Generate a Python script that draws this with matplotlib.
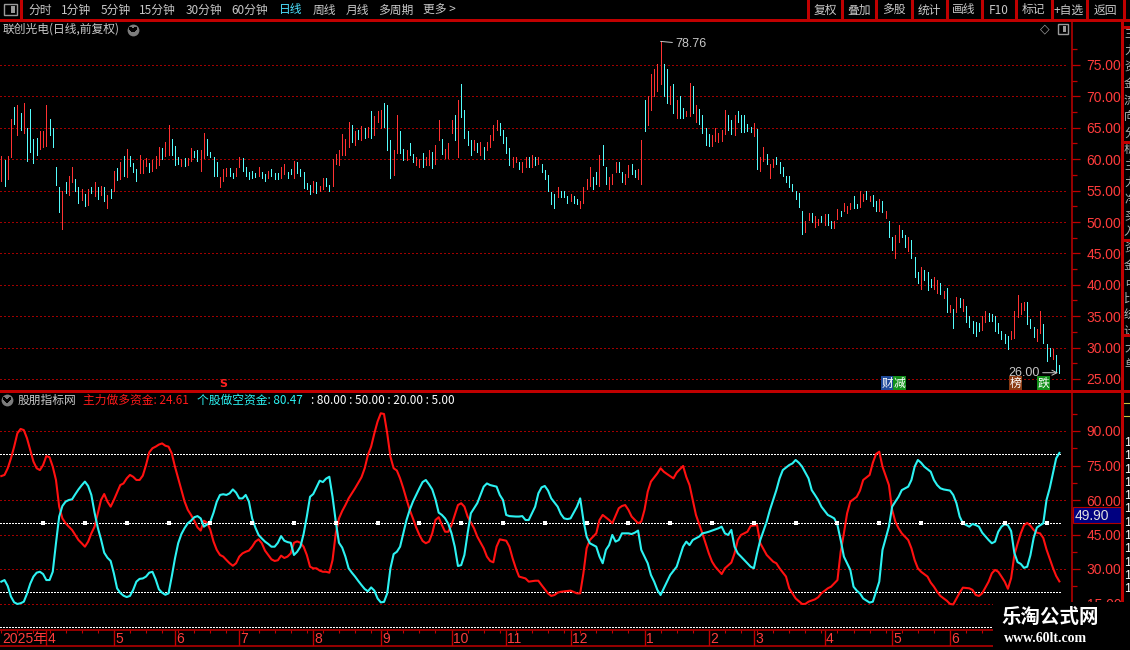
import matplotlib
matplotlib.use("Agg")
import matplotlib.pyplot as plt
from matplotlib.patches import Rectangle
from matplotlib.lines import Line2D

# ---- daily bars (high / low), 330 trading days ----
bar_high = [
    60.5, 59.8, 60.5, 66.4, 68.3, 68.6, 67.3, 68.9, 64.9, 68.0,
    63.2, 63.3, 64.5, 64.5, 68.6, 66.4, 64.9, 58.7, 55.5, 54.9,
    56.3, 57.3, 58.7, 56.9, 55.5, 55.2, 54.4, 55.2, 55.5, 56.3,
    55.5, 55.7, 55.5, 54.3, 55.3, 58.1, 58.6, 59.5, 60.5, 61.6,
    60.5, 59.4, 58.4, 60.6, 59.8, 60.2, 59.4, 59.8, 60.5, 61.9,
    61.8, 62.7, 65.4, 63.2, 62.1, 60.3, 60.0, 60.2, 60.2, 61.8,
    61.3, 61.4, 61.4, 64.1, 63.2, 61.1, 60.3, 59.5, 57.1, 58.4,
    58.6, 58.6, 57.8, 58.6, 60.3, 60.2, 58.7, 57.9, 58.1, 57.8,
    58.7, 57.9, 57.6, 58.2, 58.4, 57.8, 57.8, 58.7, 59.2, 57.9,
    58.4, 59.7, 59.5, 58.4, 57.9, 56.2, 55.9, 56.5, 56.3, 55.7,
    57.0, 57.0, 55.9,
    60.0, 60.8, 61.4, 64.0, 63.2, 66.0, 65.5, 64.5, 64.7, 65.3,
    65.0, 65.1, 67.7, 66.8, 67.7, 67.9, 69.0, 68.7, 63.1, 61.5,
    67.1, 64.5, 61.7, 61.5, 62.6, 60.9, 60.4, 60.1, 61.0, 60.3,
    61.4, 61.2, 62.2, 66.3, 63.2, 61.6, 62.5, 66.3, 67.1, 69.5,
    72.0, 67.9, 64.5, 63.0, 63.1, 62.6, 62.8, 61.9, 62.8, 63.9,
    65.5, 66.3, 65.8, 64.7, 63.6, 61.8, 60.3, 60.3, 59.6, 59.6,
    60.3, 60.3, 60.6, 60.4, 60.3, 59.3, 58.3, 57.5, 54.7, 54.5,
    55.5, 55.0, 55.0, 54.2, 54.4, 54.2, 53.7, 53.4, 55.5, 56.9,
    58.8, 57.1, 58.0, 60.6, 62.3, 58.8, 57.2, 57.7, 59.6, 59.6,
    58.0, 57.7, 59.1, 59.3, 58.3, 58.5, 63.1, 69.5, 70.0, 73.6,
    74.4, 75.1, 78.76, 75.1, 74.3, 71.7, 71.9, 69.5, 70.1, 68.1,
    67.7, 72.2, 71.7, 68.7,
    68.0, 67.0, 65.0, 64.0, 63.9, 64.9, 64.2, 64.7, 67.8, 67.1,
    66.2, 67.0, 67.6, 67.0, 67.1, 65.6, 65.1, 65.8, 64.8, 60.3,
    61.9, 60.8, 59.2, 60.0, 60.4, 59.5, 58.8, 57.4, 57.4, 56.0,
    55.0, 54.6, 51.8, 50.1, 51.5, 51.5, 50.9, 50.5, 51.0, 51.2,
    51.2, 50.1, 50.1, 52.0, 51.7, 53.1, 52.6, 53.1, 54.1, 52.8,
    54.9, 54.5, 54.9, 54.1, 54.3, 53.3, 53.6, 53.4, 51.8, 50.1,
    47.6, 48.0, 49.5, 48.8, 47.9, 47.6, 47.2, 44.5, 42.1, 42.8,
    42.4, 42.0, 40.9, 41.2, 40.8, 40.3, 39.0, 39.5, 36.8, 36.1,
    38.1, 37.9, 37.7, 36.6, 35.1, 34.3, 34.1, 33.9, 35.0, 35.8,
    35.5, 35.4, 35.1, 33.9, 32.7, 32.1, 31.9, 32.6, 35.8, 38.3,
    37.1, 37.3, 37.3, 34.6, 33.3, 32.9, 35.9, 33.7, 30.5, 30.0,
    29.8, 28.8, 27.2,
]
bar_low = [
    56.5, 55.7, 56.9, 60.4, 65.6, 63.9, 64.7, 64.2, 59.7, 61.1,
    59.4, 60.6, 61.6, 62.0, 62.1, 63.9, 62.0, 55.9, 51.6, 48.9,
    54.6, 54.3, 56.3, 54.9, 53.1, 53.5, 52.5, 52.7, 54.6, 54.1,
    53.7, 54.3, 53.3, 52.3, 53.9, 54.9, 56.7, 56.9, 57.3, 57.1,
    58.9, 57.9, 56.6, 57.8, 57.8, 58.9, 57.9, 58.1, 58.6, 59.0,
    60.0, 60.5, 60.6, 60.6, 59.0, 59.2, 58.9, 58.9, 59.0, 59.7,
    60.3, 59.7, 58.2, 60.2, 60.6, 60.3, 57.3, 57.4, 55.5, 56.6,
    57.4, 57.4, 57.0, 57.3, 58.7, 58.2, 57.3, 56.8, 57.0, 57.1,
    57.4, 57.0, 56.6, 57.0, 57.3, 56.8, 56.8, 57.0, 57.6, 57.0,
    57.6, 57.0, 57.8, 57.3, 55.4, 55.2, 54.4, 54.7, 54.6, 54.9,
    55.2, 55.7, 54.9,
    55.7, 59.2, 59.1, 60.7, 60.7, 61.9, 62.8, 62.3, 63.2, 63.1,
    63.4, 63.6, 63.4, 63.8, 66.0, 64.9, 65.2, 61.5, 57.0, 57.5,
    61.0, 61.0, 59.9, 59.9, 60.7, 59.5, 59.1, 58.8, 58.7, 59.0,
    59.1, 58.6, 59.2, 63.0, 60.8, 60.2, 60.2, 64.1, 63.0, 60.4,
    66.7, 63.3, 62.2, 60.6, 61.4, 61.2, 60.7, 60.1, 61.4, 62.0,
    63.0, 64.7, 63.8, 62.6, 61.0, 59.1, 58.8, 59.5, 58.5, 57.9,
    58.7, 58.8, 58.7, 59.1, 59.3, 57.9, 56.8, 55.0, 52.8, 52.3,
    54.0, 54.0, 54.0, 53.1, 53.4, 53.1, 52.9, 52.3, 53.1, 55.3,
    55.8, 55.3, 56.1, 55.8, 59.0, 56.0, 55.3, 56.1, 57.9, 58.0,
    56.4, 56.1, 57.2, 57.7, 57.1, 56.9, 56.0, 64.5, 65.5, 67.9,
    70.1, 70.8, 72.0, 70.0, 69.0, 68.8, 67.4, 66.5, 66.5, 66.6,
    66.8, 66.8, 67.4, 66.0,
    65.6, 64.2, 62.2, 62.1, 62.1, 62.9, 62.7, 62.9, 64.0, 64.6,
    64.0, 63.9, 65.9, 64.3, 64.3, 64.5, 64.3, 63.7, 58.4, 58.1,
    59.7, 59.2, 57.0, 58.7, 59.2, 57.8, 57.4, 56.4, 55.5, 54.9,
    53.6, 52.4, 48.1, 48.4, 50.3, 50.0, 49.2, 49.5, 50.0, 49.6,
    49.5, 49.1, 49.1, 50.4, 51.0, 51.7, 51.4, 52.0, 52.3, 52.2,
    52.4, 53.4, 53.6, 53.3, 52.5, 51.7, 51.7, 51.6, 50.6, 47.6,
    45.5, 44.3, 46.8, 47.6, 46.0, 45.4, 44.3, 41.3, 40.3, 39.3,
    40.7, 39.1, 39.6, 39.3, 38.7, 38.5, 37.9, 35.6, 35.7, 33.1,
    35.6, 36.5, 35.9, 34.1, 33.3, 32.3, 31.9, 32.7, 32.8, 34.1,
    34.3, 34.3, 32.6, 32.3, 31.4, 30.7, 29.7, 31.4, 31.5, 34.8,
    35.4, 36.0, 33.7, 33.1, 31.7, 31.0, 32.3, 30.7, 27.9, 28.6,
    28.2, 26.3, 26.0,
]
# r = up day (red bar), c = down day (cyan bar)
bar_dir = (
    "rcrrcrcrcc" "ccrrrccccr" "crrccrcrcr" "crcrcrcrcr" "cccrrrcrrr"
    "crrcccrcrr" "ccrrccccrr" "rccrrccccc" "rccrcccrrc" "crcccccrcr"
    "rccrrrrrrc" "rcrcrcrrrc" "ccrrccrccr" "rcrrcrrcrr" "rcrccccrcr"
    "crrrrccccr" "rcrrcrcrcc" "cccrcccrcc" "rrrrccrccr" "rrccrrccrr"
    "crrrrrccrc" "rccrrcrccc" "crrrrrccrc" "ccccrcrrcr" "rccccccccc"
    "rrcrrcrccr" "rcrrrccrrc" "rccrcrccrr" "ccrcccrccc" "rrcrcrcrcr"
    "cccccrrccc" "ccccrrrrrc" "ccrrcccrcc"
)

# ---- indicator lines (bar index, value) ----
red_idx = list(range(140)) + [
    140, 142, 143, 144, 145, 147, 148, 150, 151, 152,
    153, 154, 155, 157, 158, 159, 160, 161, 163, 164,
    166, 167, 168, 170, 171, 172, 173, 174, 177, 179,
    180, 181, 182, 183, 185, 186, 187, 189, 190, 192,
    193, 194, 195, 196, 198, 199, 200, 201, 202, 204,
    205, 206, 207, 209, 210, 212, 213, 214, 215, 216,
    218, 220, 221, 222, 224, 225, 227, 228, 229, 230,
    232, 233, 235, 236, 238, 240, 241, 242, 244, 245,
    247, 249, 250, 251, 253, 254, 255, 257, 258, 260,
    261, 262, 263, 264, 266, 267, 268, 270, 271, 272,
    273, 274, 276, 277, 278, 279, 280, 282, 283, 284,
    285, 286, 288, 289, 290, 291, 292, 294, 295, 296,
    297, 298, 299, 301, 302, 303, 304, 305, 307, 308,
    309, 310, 311, 312, 313, 314, 315, 316, 317, 318,
    319, 320, 321, 322, 323, 324, 325, 326, 327, 328,
    329,
]
red_val = [
    70.4, 70.9, 73.8, 78.1, 83.2, 89.0, 90.9, 90.4, 86.8, 81.7,
    76.7, 73.8, 73.0, 75.2, 79.1, 78.6, 74.5, 68.7, 57.1, 52.0,
    49.9, 48.4, 47.0, 44.8, 42.6, 41.2, 39.7, 41.9, 45.5, 48.4,
    54.2, 60.0, 62.6, 59.3, 57.1, 60.0, 63.3, 66.5, 67.2, 69.4,
    70.9, 70.1, 68.7, 68.7, 70.6, 75.2, 80.7, 82.5, 83.2, 84.1,
    84.6, 83.6, 83.2, 80.3, 74.5, 69.4, 64.3, 59.3, 55.7, 53.5,
    51.0, 48.1, 46.7, 51.0, 50.1, 47.0, 41.9, 38.3, 36.1, 35.4,
    33.9, 32.5, 31.4, 32.5, 35.4, 36.8, 37.5, 38.0, 39.7, 41.9,
    42.9, 41.2, 38.0, 36.1, 34.2, 33.5, 33.8, 35.8, 34.8, 35.4,
    36.8, 41.4, 42.0, 41.4, 39.7, 36.1, 31.0, 30.3, 30.3, 29.3,
    28.8, 28.8, 28.4, 33.9, 45.5, 52.0, 55.2, 57.8, 60.7, 62.9,
    65.1, 67.5, 69.9, 73.8, 79.6, 83.2, 89.0, 94.1, 97.7, 97.4,
    89.0, 78.8, 73.8, 72.8, 69.4, 65.1, 60.3, 55.7, 52.0, 48.1,
    44.8, 42.2, 41.2, 41.9, 45.5, 51.3, 52.5, 49.1, 46.2, 46.2,
    49.1, 57.8, 58.6, 57.1, 52.8, 47.7, 44.1, 39.0, 35.4, 33.5,
    32.9, 39.7, 42.9, 42.3, 39.7, 34.6, 30.3, 26.7, 25.9, 24.5,
    24.9, 24.9, 23.0, 19.4, 18.3, 18.7, 19.7, 20.1, 20.6, 19.4,
    19.4, 28.1, 39.0, 42.6, 45.5, 51.3, 53.5, 51.3, 49.9, 56.4,
    57.4, 57.8, 55.7, 52.8, 49.9, 50.6, 55.7, 63.6, 68.0, 71.6,
    73.8, 72.3, 71.3, 69.4, 71.9, 74.8, 70.0, 66.5, 60.0, 53.5,
    45.5, 36.8, 33.2, 31.0, 27.8, 30.3, 32.8, 36.8, 42.6, 44.8,
    46.2, 48.7, 49.1, 41.2, 36.1, 33.2, 32.5, 30.3, 26.7, 21.6,
    17.2, 14.8, 14.8, 15.8, 16.8, 17.7, 19.4, 21.6, 22.3, 25.2,
    37.5, 45.5, 54.2, 59.3, 61.4, 64.1, 68.7, 70.9, 76.2, 80.0,
    81.0, 74.5, 66.5, 55.7, 50.6, 47.7, 45.5, 42.6, 39.0, 33.9,
    30.3, 28.8, 26.7, 24.1, 22.3, 20.1, 18.3, 16.2, 14.8, 14.6,
    17.2, 19.7, 21.9, 21.6, 20.9, 18.7, 18.3, 19.4, 24.5, 28.1,
    29.6, 28.8, 26.7, 24.5, 21.4, 26.0, 36.0, 41.0, 45.5, 49.0,
    50.0, 48.8, 47.0, 45.8, 45.5, 43.5, 38.5, 34.5, 30.5, 27.0,
    24.61,
]
cyan_idx = list(range(140)) + [
    140, 141, 142, 143, 144, 145, 146, 148, 149, 150,
    151, 152, 154, 155, 156, 157, 158, 160, 161, 162,
    163, 164, 166, 167, 168, 169, 170, 171, 173, 174,
    175, 176, 177, 179, 180, 181, 182, 183, 185, 186,
    187, 188, 189, 190, 191, 192, 193, 195, 196, 197,
    198, 199, 201, 202, 203, 204, 205, 206, 207, 208,
    210, 211, 212, 213, 214, 215, 217, 218, 219, 220,
    221, 223, 224, 225, 226, 227, 228, 229, 230, 232,
    233, 234, 235, 236, 238, 239, 240, 241, 242, 243,
    245, 246, 247, 248, 249, 251, 252, 253, 254, 255,
    257, 258, 259, 260, 261, 262, 264, 265, 266, 267,
    268, 270, 271, 272, 273, 274, 276, 277, 278, 279,
    280, 282, 283, 284, 285, 286, 287, 289, 290, 291,
    292, 293, 295, 296, 297, 298, 299, 301, 302, 303,
    304, 305, 307, 308, 309, 310, 311, 312, 313, 314,
    315, 316, 317, 318, 319, 320, 321, 322, 323, 324,
    325, 326, 327, 328, 329,
]
cyan_val = [
    24.5, 25.2, 22.6, 18.0, 15.5, 14.8, 15.1, 15.8, 19.3, 23.6,
    26.7, 28.4, 28.8, 27.8, 25.2, 25.2, 28.8, 41.2, 52.8, 57.4,
    59.3, 60.0, 60.3, 62.5, 64.6, 66.4, 68.0, 66.1, 62.2, 54.5,
    48.0, 42.9, 37.1, 34.9, 33.5, 28.1, 21.6, 19.6, 18.4, 17.8,
    18.3, 20.9, 24.5, 25.7, 25.9, 26.7, 28.4, 28.8, 25.5, 21.2,
    19.7, 18.8, 19.4, 26.7, 34.6, 41.2, 45.2, 47.8, 49.9, 51.0,
    52.5, 53.0, 52.0, 48.4, 49.4, 50.6, 54.5, 59.3, 62.2, 62.5,
    62.2, 62.9, 64.6, 63.2, 60.7, 60.7, 62.2, 59.3, 52.0, 48.0,
    44.8, 43.3, 41.9, 40.9, 39.7, 39.7, 41.4, 44.3, 42.3, 41.7,
    41.4, 36.1, 37.5, 39.7, 45.2, 52.8, 61.4, 62.6, 65.5, 68.4,
    67.8, 69.3, 70.1, 61.4, 50.6, 41.4, 39.3, 35.4, 30.3, 28.4,
    26.7, 24.8, 23.0, 21.3, 20.3, 22.0, 20.6, 17.2, 15.5, 15.7,
    19.4, 30.3, 36.5, 37.5, 39.7, 45.5, 51.3, 55.7, 59.3, 62.2,
    65.1, 67.8, 68.7, 66.8, 64.6, 60.3, 54.5, 53.5, 52.0, 49.6,
    45.5, 39.7, 31.3, 31.7, 36.1, 45.5, 54.2, 58.6, 62.2, 65.8,
    67.2, 66.5, 65.8, 62.2, 60.0, 53.5, 53.0, 52.8, 52.8, 53.0,
    51.3, 51.3, 57.1, 62.9, 65.5, 66.1, 64.1, 60.7, 57.1, 53.9,
    52.0, 51.7, 52.0, 57.1, 60.7, 51.3, 44.1, 41.2, 39.7, 35.4,
    32.5, 38.3, 40.4, 44.8, 41.9, 42.6, 45.5, 45.5, 45.2, 45.8,
    46.7, 38.3, 32.5, 27.4, 24.5, 20.9, 18.7, 21.6, 24.5, 27.4,
    31.0, 35.4, 39.7, 41.9, 40.4, 42.6, 44.1, 45.5, 45.8, 46.2,
    46.7, 47.7, 48.4, 45.5, 44.8, 47.0, 39.7, 36.8, 35.4, 32.5,
    31.0, 30.3, 36.8, 42.6, 50.6, 55.7, 60.0, 64.3, 69.4, 73.0,
    75.2, 75.9, 77.4, 76.2, 74.5, 69.4, 64.3, 62.2, 60.0, 57.1,
    53.5, 52.8, 52.0, 49.1, 42.6, 35.4, 29.6, 22.3, 20.6, 19.4,
    17.2, 15.4, 15.8, 20.1, 24.5, 38.3, 48.4, 57.1, 59.3, 61.4,
    64.3, 65.8, 68.7, 74.5, 77.4, 76.2, 74.5, 72.3, 68.7, 66.5,
    65.1, 64.6, 64.1, 62.2, 58.6, 52.8, 49.9, 48.4, 49.6, 49.1,
    48.4, 45.8, 42.6, 41.2, 41.9, 46.2, 48.4, 49.5, 49.0, 46.5,
    37.0, 33.0, 32.2, 30.5, 31.0, 36.0, 43.5, 48.0, 49.0, 49.9,
    60.0, 65.1, 71.6, 78.1, 80.47,
]
# bars carrying the small white squares on the 50 line
marker_bars = [13, 26, 39, 52, 65, 78, 91, 104, 117, 130, 143, 156, 169,
               182, 195, 208, 221, 234, 247, 260, 273, 286, 299, 312, 325]

price_ticks = [25, 30, 35, 40, 45, 50, 55, 60, 65, 70, 75]
ind_ticks = [15, 30, 45, 60, 75, 90]
ind_levels = [80, 50, 20, 5]          # white dotted reference lines
month_bars = [14, 35, 54, 74, 97, 118, 140, 157, 177, 200, 220, 234, 256, 277, 295]
month_labels = ["4", "5", "6", "7", "8", "9", "10", "11", "12",
                "1", "2", "3", "4", "5", "6"]
year_label = "2025年"
signal_bar = 69                       # red "S" under the price bars
badges = [("财", 275.7, "#1f4a9a"), ("减", 279.2, "#12901a"),
          ("榜", 315.4, "#8b3a12"), ("跌", 324.1, "#12901a")]
cursor_value = 49.90

menu_left = ["分时", "1分钟", "5分钟", "15分钟", "30分钟", "60分钟",
             "日线", "周线", "月线", "多周期", "更多 >"]
menu_right = ["复权", "叠加", "多股", "统计", "画线", "F10", "标记", "+自选", "返回"]

assert len(bar_high) == len(bar_low) == len(bar_dir)
assert len(red_idx) == len(red_val) and len(cyan_idx) == len(cyan_val)

# ---- style ----
BG = "black"
AX_RED = "#c00000"
GRID_RED = "#a00000"
LBL_RED = "#ff3c3c"
UP = "#ff3232"
DOWN = "#54fcfc"
TXT = "#c8c8c8"
CJK = ["Noto Sans CJK SC", "DejaVu Sans"]
NARROW = ["Liberation Sans Narrow", "Liberation Sans", "Noto Sans CJK SC"]
plt.rcParams["font.family"] = CJK

W, H = 1130, 650
fig = plt.figure(figsize=(W / 100, H / 100), dpi=100, facecolor=BG)


def fx(px):
    return px / W


def fy(py):
    return 1 - py / H


X0, DX, AX_R = 1.3, 3.216, 1072      # first bar pixel, bar spacing, axis line


def k_at(px):
    return (px - X0) / DX


def fig_line(xs, ys, color=AX_RED, lw=1.0, z=4):
    fig.add_artist(Line2D([fx(x) for x in xs], [fy(y) for y in ys],
                          color=color, lw=lw, transform=fig.transFigure,
                          zorder=z, antialiased=False))


def add_panel(top, bottom, v_ref, y_ref, ppu, ticks):
    ax = fig.add_axes([0, fy(bottom), fx(AX_R), (bottom - top) / H])
    ax.set_facecolor(BG)
    ax.set_xlim(k_at(0), k_at(AX_R))
    ax.set_ylim(v_ref - (bottom - y_ref) / ppu, v_ref + (y_ref - top) / ppu)
    for s in ("top", "left", "bottom"):
        ax.spines[s].set_visible(False)
    ax.spines["right"].set_color(AX_RED)
    ax.spines["right"].set_linewidth(1.1)
    ax.set_xticks([])
    ax.yaxis.tick_right()
    ax.set_yticks(ticks)
    ax.set_yticklabels([f"{t:.2f}" for t in ticks])
    step = ticks[1] - ticks[0]
    ax.set_yticks([t + step / 2 for t in ticks], minor=True)
    ax.tick_params(axis="y", which="major", length=6, width=0.9,
                   color=AX_RED, labelcolor=LBL_RED, labelsize=10, pad=4.5)
    ax.tick_params(axis="y", which="minor", length=3.5, width=0.9, color=AX_RED)
    for lab in ax.get_yticklabels():
        lab.set_family(NARROW)
    return ax


# ---- price panel ----
ax_p = add_panel(20, 391, 75, 65, 6.28, price_ticks)
ax_p.hlines(price_ticks, k_at(0), k_at(1068), colors=GRID_RED,
            linestyles=(0, (1, 2.5)), lw=0.75, antialiased=False)
n = len(bar_high)
cols = [UP if d == "r" else DOWN for d in bar_dir]
ax_p.vlines(range(n), bar_low, bar_high, colors=cols, lw=0.55, antialiased=False)

hi = max(range(n), key=lambda i: bar_high[i])
lo = min(range(n), key=lambda i: bar_low[i])
ax_p.annotate(f"{bar_high[hi]:.2f}", xy=(hi, bar_high[hi]), xytext=(10.5, -2),
              textcoords="offset points", color=TXT, fontsize=9, family=NARROW,
              ha="left", va="center",
              arrowprops=dict(arrowstyle="-", color=TXT, lw=0.7,
                              shrinkA=0, shrinkB=0))
ax_p.annotate(f"{bar_low[lo]:.2f}", xy=(lo, bar_low[lo]), xytext=(-14, 0),
              textcoords="offset points", color=TXT, fontsize=9, family=NARROW,
              ha="right", va="center",
              arrowprops=dict(arrowstyle="->", color=TXT, lw=0.7,
                              shrinkA=0, shrinkB=1))

tx = ax_p.get_xaxis_transform()
ax_p.text(signal_bar, 0.02, "S", transform=tx, color="#ff2020", fontsize=8,
          fontweight="bold", family="DejaVu Sans", ha="center", va="center")
for txt, k, fc in badges:
    ax_p.text(k, 0.021, txt, transform=tx, color="white", fontsize=8.5,
              ha="center", va="center",
              bbox=dict(boxstyle="square,pad=0.05", fc=fc, ec="none"))

# ---- indicator panel ----
ax_i = add_panel(391, 630, 90, 431, 2.3, ind_ticks)
ax_i.hlines(ind_ticks, k_at(0), k_at(1068), colors=GRID_RED,
            linestyles=(0, (1, 2.5)), lw=0.75, antialiased=False)
ax_i.hlines(ind_levels, k_at(0), k_at(1062), colors="white",
            linestyles=(0, (1, 1.2)), lw=0.75, antialiased=False)
ax_i.plot(red_idx, red_val, color="#ff1010", lw=1.5, zorder=3)
ax_i.plot(cyan_idx, cyan_val, color="#2cf2f2", lw=1.5, zorder=3)
ax_i.plot(marker_bars, [50] * len(marker_bars), "s", color="white",
          ms=3.3, mew=0, zorder=4)

# ---- date strip ----
ax_d = fig.add_axes([0, fy(646), fx(AX_R), 16 / H])
ax_d.set_xlim(k_at(0), k_at(AX_R))
ax_d.set_ylim(0, 1)
ax_d.axis("off")
ax_d.axhline(1, color=AX_RED, lw=1.1, clip_on=False)
ax_d.axhline(0, color=AX_RED, lw=1.1, clip_on=False)
ax_d.vlines(month_bars, 0, 1, colors=AX_RED, lw=1.0)
ax_d.vlines([k for k in range(0, n, 5) if k not in month_bars], 0.8, 1,
            colors=AX_RED, lw=0.8)
ax_d.text(k_at(2), 0.45, year_label, color=LBL_RED, fontsize=10,
          family=NARROW + ["DejaVu Sans"], va="center", ha="left")
for k, lab in zip(month_bars, month_labels):
    ax_d.text(k + 0.4, 0.45, lab, color=LBL_RED, fontsize=10, family=NARROW,
              va="center", ha="left")

# ---- frame lines ----
fig_line([0, W], [19.5, 19.5])
fig_line([21, 21], [0, 19.5])
fig_line([0, W], [391, 391])
fig_line([1122, 1122], [20, 600])
for y in (27, 142, 240, 335):
    fig_line([1122, W], [y, y])

# ---- top toolbar ----
for txt, x in zip(menu_left, [28.6, 61, 100.7, 139, 186, 231, 278.6,
                              312.5, 345.7, 378.6, 423]):
    fig.text(fx(x), fy(10), txt, color="#4de1ff" if txt == "日线" else TXT,
             fontsize=8.5, va="center", ha="left")
seps = [808, 842, 876, 911.6, 946.5, 981.8, 1016, 1051.6, 1086.5, 1123.6]
for x in seps:
    fig_line([x, x], [0, 19.5])
for txt, a, b in zip(menu_right, seps[:-1], seps[1:]):
    fig.text(fx((a + b) / 2), fy(10), txt, color=TXT, fontsize=8.5,
             va="center", ha="center")
fig.add_artist(Rectangle((fx(4), fy(15)), fx(13), 11 / H, fill=False,
                         ec="#9a9a9a", lw=1.0, transform=fig.transFigure))
fig.add_artist(Rectangle((fx(11), fy(13)), fx(4), 7 / H, fc="#9a9a9a",
                         ec="none", transform=fig.transFigure))

# ---- titles ----
fig.text(fx(3), fy(29), "联创光电(日线,前复权)", color=TXT, fontsize=8.5,
         va="center", ha="left")
for cx, cy in ((133, 29.5), (7, 400)):
    fig.add_artist(Line2D([fx(cx)], [fy(cy)], marker="o", ms=8.5,
                          color="#7c7c7c", mew=0, transform=fig.transFigure))
    fig_line([cx - 2.8, cx, cx + 2.8], [cy - 1.2, cy + 1.5, cy - 1.2],
             color="black", lw=1.2, z=5)
fig.text(fx(1045), fy(29), "◇", color="#9a9a9a", fontsize=9,
         family="DejaVu Sans", va="center", ha="center")
fig.add_artist(Rectangle((fx(1058), fy(34)), fx(10), 10 / H, fill=False,
                         ec="#9a9a9a", lw=1.0, transform=fig.transFigure))
fig.add_artist(Rectangle((fx(1063), fy(32)), fx(3), 6 / H, fc="#9a9a9a",
                         ec="none", transform=fig.transFigure))

fig.text(fx(18), fy(400), "股朋指标网", color=TXT, fontsize=8.5,
         va="center", ha="left")
fig.text(fx(83), fy(400), f"主力做多资金: {red_val[-1]:.2f}", color="#ff1a1a",
         fontsize=8.5, va="center", ha="left")
fig.text(fx(197), fy(400), f"个股做空资金: {cyan_val[-1]:.2f}", color="#2cf2f2",
         fontsize=8.5, va="center", ha="left")
fig.text(fx(311), fy(400), " ".join(f": {v:.2f}" for v in ind_levels),
         color="white", fontsize=8.5, va="center", ha="left")

# cursor value box on the indicator axis
fig.add_artist(Rectangle((fx(1073), fy(523)), fx(48), 16 / H, fc="#000080",
                         ec="#b00000", lw=0.8, transform=fig.transFigure))
fig.text(fx(1075), fy(515.5), f"{cursor_value:.2f}", color="#e0e0e0",
         fontsize=10, family=NARROW, va="center", ha="left")

# clipped side bar at the far right
for i, ch in enumerate("主力资金流向分析主力净买入资金占比统计大单"):
    fig.text(fx(1124), fy(34 + i * 16.5), ch, color="#b0b0b0", fontsize=8.5,
             va="center", ha="left")
fig.add_artist(Rectangle((fx(1123), fy(416)), fx(12), 13 / H, fill=False,
                         ec="#d0c040", lw=0.8, transform=fig.transFigure))
for i in range(12):
    fig.text(fx(1124), fy(443 + i * 13.3), "1", color="white", fontsize=9,
             family=NARROW, va="center", ha="left")

# ---- watermark ----
fig.add_artist(Rectangle((fx(993), 0), fx(W - 993), 48 / H, fc="black",
                         ec="none", transform=fig.transFigure, zorder=10))
fig.text(fx(1050), fy(617), "乐淘公式网", color="white", fontsize=14,
         fontweight="bold", va="center", ha="center", zorder=11)
fig.text(fx(1046), fy(639), "www.60lt.com", color="white", fontsize=10,
         fontweight="bold", family=["Liberation Serif", "DejaVu Serif"],
         va="center", ha="center", zorder=11)

fig.savefig("out.png", dpi=100, facecolor=BG)
